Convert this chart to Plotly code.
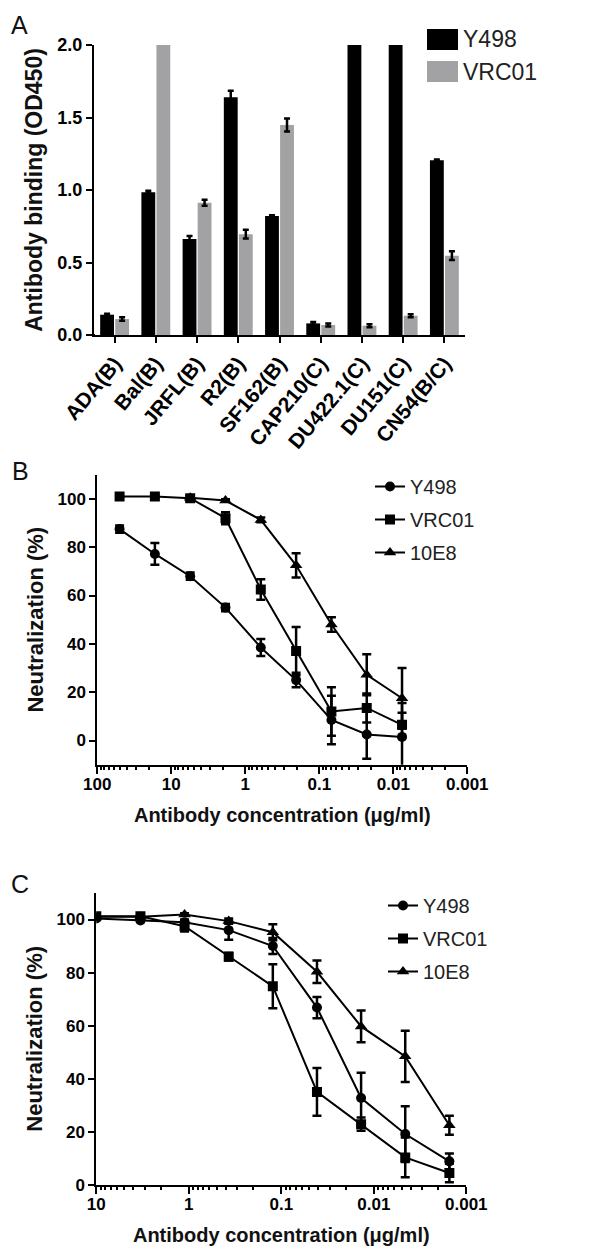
import plotly.graph_objects as go

W, H = 613, 1247
FONT = "Liberation Sans, Arial, sans-serif"

# ---------------- Panel A data ----------------
strains = ["ADA(B)", "Bal(B)", "JRFL(B)", "R2(B)", "SF162(B)",
           "CAP210(C)", "DU422.1(C)", "DU151(C)", "CN54(B/C)"]
a_y498 = [0.14, 0.985, 0.662, 1.64, 0.82, 0.08, 2.5, 2.5, 1.205]
a_y498_err = [0.006, 0.01, 0.02, 0.045, 0.005, 0.01, 0, 0, 0.005]
a_vrc01 = [0.11, 2.5, 0.912, 0.695, 1.448, 0.069, 0.064, 0.133, 0.547]
a_vrc01_err = [0.012, 0, 0.02, 0.03, 0.045, 0.01, 0.01, 0.01, 0.03]
a_yticks = [0.0, 0.5, 1.0, 1.5, 2.0]
a_yticktext = ["0.0", "0.5", "1.0", "1.5", "2.0"]

# ---------------- Panel B data ----------------
b_conc = [50, 16.67, 5.556, 1.852, 0.6173, 0.2058, 0.06859, 0.02286, 0.007621]
b_y498 = [87.5, 77.2, 68.0, 55.0, 38.5, 25.0, 8.5, 2.5, 1.5]
b_y498_err = [1.5, 4.5, 1.5, 1.5, 3.5, 3.0, 10.0, 10.0, 14.0]
b_vrc01 = [101.0, 101.0, 100.3, 92.0, 62.5, 37.0, 12.0, 13.5, 6.5]
b_vrc01_err = [0.5, 0.5, 1.0, 2.5, 4.2, 10.0, 10.0, 6.0, 5.0]
b_10e8_conc = [5.556, 1.852, 0.6173, 0.2058, 0.06859, 0.02286, 0.007621]
b_10e8 = [100.5, 99.3, 91.3, 72.5, 48.0, 27.2, 17.5]
b_10e8_err = [0.5, 0.5, 1.0, 5.0, 3.0, 8.5, 12.5]
b_xticks = [100, 10, 1, 0.1, 0.01, 0.001]
b_xticktext = ["100", "10", "1", "0.1", "0.01", "0.001"]

# ---------------- Panel C data ----------------
c_conc = [10, 3.333, 1.111, 0.3704, 0.1235, 0.04115, 0.01372, 0.004572, 0.001524]
c_y498 = [100.4, 99.6, 99.0, 96.0, 90.0, 66.8, 32.7, 19.1, 8.8]
c_y498_err = [0.5, 0.5, 1.0, 3.6, 3.0, 4.0, 9.5, 10.5, 3.0]
c_vrc01 = [101.2, 101.2, 97.5, 86.0, 74.8, 35.0, 22.8, 10.3, 4.4]
c_vrc01_err = [0.5, 0.5, 2.0, 1.5, 8.3, 9.0, 2.5, 7.5, 3.5]
c_10e8 = [101.0, 101.0, 101.9, 99.4, 95.2, 80.3, 59.7, 48.4, 22.4]
c_10e8_err = [0.5, 0.5, 0.5, 1.0, 3.0, 4.2, 6.0, 9.7, 3.6]
c_xticks = [10, 1, 0.1, 0.01, 0.001]
c_xticktext = ["10", "1", "0.1", "0.01", "0.001"]

neut_yticks = [0, 20, 40, 60, 80, 100]

BLACK = "#000000"
GREY = "#a2a2a4"


def px_x(p):
    return p / W


def px_y(p):
    return 1 - p / H


def minor_log_ticks(decades):
    return [m * d for d in decades for m in range(2, 10)]


fig = go.Figure()

# ---- Panel A bars ----
fig.add_trace(go.Bar(
    x=strains, y=a_y498, name="Y498", marker=dict(color=BLACK, line=dict(width=0)),
    error_y=dict(type="data", array=a_y498_err, color=BLACK, thickness=2.5, width=3),
    xaxis="x", yaxis="y", showlegend=False))
fig.add_trace(go.Bar(
    x=strains, y=a_vrc01, name="VRC01", marker=dict(color=GREY, line=dict(width=0)),
    error_y=dict(type="data", array=a_vrc01_err, color=BLACK, thickness=2.5, width=3),
    xaxis="x", yaxis="y", showlegend=False))

# ---- Panel B / C curves ----
line_style = dict(color=BLACK, width=2)
err_style = dict(color=BLACK, thickness=2.5, width=4.5)


def curve(x, y, err, name, symbol, size, xa, ya, legend):
    return go.Scatter(
        x=x, y=y, name=name, mode="lines+markers",
        line=line_style,
        marker=dict(symbol=symbol, size=size, color=BLACK, line=dict(width=0)),
        error_y=dict(type="data", array=err, **err_style),
        xaxis=xa, yaxis=ya, legend=legend, legendgroup=legend + name)


fig.add_trace(curve(b_conc, b_y498, b_y498_err, "Y498", "circle", 10, "x2", "y2", "legend2"))
fig.add_trace(curve(b_conc, b_vrc01, b_vrc01_err, "VRC01", "square", 10, "x2", "y2", "legend2"))
fig.add_trace(curve(b_10e8_conc, b_10e8, b_10e8_err, "10E8", "triangle-up", 11, "x2", "y2", "legend2"))

fig.add_trace(curve(c_conc, c_y498, c_y498_err, "Y498", "circle", 10, "x3", "y3", "legend3"))
fig.add_trace(curve(c_conc, c_vrc01, c_vrc01_err, "VRC01", "square", 10, "x3", "y3", "legend3"))
fig.add_trace(curve(c_conc, c_10e8, c_10e8_err, "10E8", "triangle-up", 11, "x3", "y3", "legend3"))

tickfont_a = dict(family=FONT, size=18, color=BLACK, weight="bold")
tickfont_n = dict(family=FONT, size=17, color=BLACK, weight="bold")
title_font_h = dict(family=FONT, size=20, color="#111111", weight="bold")
title_font_v = dict(family=FONT, size=22, color="#111111", weight="bold")

common_axis = dict(showline=True, linecolor=BLACK, linewidth=2, ticks="outside",
                   tickcolor=BLACK, tickwidth=2, showgrid=False, zeroline=False,
                   automargin=False)


def log_minor(decades):
    return dict(tickmode="array", tickvals=minor_log_ticks(decades), ticks="outside",
                ticklen=3.5, tickwidth=1.5, tickcolor=BLACK, showgrid=False)


fig.update_layout(
    width=W, height=H,
    margin=dict(l=0, r=0, t=0, b=0),
    paper_bgcolor="white", plot_bgcolor="white",
    font=dict(family=FONT, color=BLACK),
    barmode="group", bargap=0.27, bargroupgap=0.08,
    xaxis=dict(domain=[px_x(86), px_x(457)], anchor="y", type="category",
               range=[-0.5, 8.5], tickangle=-50,
               tickfont=dict(family=FONT, size=21, color=BLACK, weight="bold"),
               ticklen=6, **common_axis),
    yaxis=dict(domain=[px_y(327), px_y(37)], anchor="x", range=[0, 2.0],
               tickvals=a_yticks, ticktext=a_yticktext,
               tickfont=tickfont_a, ticklen=6,
               title=dict(text="Antibody binding (OD450)",
                          font=dict(family=FONT, size=23, color="#111111", weight="bold"),
                          standoff=8),
               **common_axis),
    xaxis2=dict(domain=[px_x(89.3), px_x(459.3)], anchor="y2", type="log",
                range=[2, -3], tickvals=b_xticks, ticktext=b_xticktext,
                tickfont=tickfont_n, ticklen=7, ticklabelstandoff=-4,
                minor=log_minor([0.001, 0.01, 0.1, 1, 10]),
                title=dict(text="Antibody concentration (μg/ml)", font=title_font_h, standoff=15),
                **common_axis),
    yaxis2=dict(domain=[px_y(756.7), px_y(466.7)], anchor="x2", range=[-10, 110],
                tickvals=neut_yticks, tickfont=tickfont_n, ticklen=6,
                title=dict(text="Neutralization (%)", font=title_font_v, standoff=8),
                **common_axis),
    xaxis3=dict(domain=[px_x(88.3), px_x(458.3)], anchor="y3", type="log",
                range=[1, -3], tickvals=c_xticks, ticktext=c_xticktext,
                tickfont=tickfont_n, ticklen=7, ticklabelstandoff=-4,
                minor=log_minor([0.001, 0.01, 0.1, 1]),
                title=dict(text="Antibody concentration (μg/ml)", font=title_font_h, standoff=15),
                **common_axis),
    yaxis3=dict(domain=[px_y(1176.7), px_y(885)], anchor="x3", range=[0, 110],
                tickvals=neut_yticks, tickfont=tickfont_n, ticklen=6,
                title=dict(text="Neutralization (%)", font=title_font_v, standoff=8),
                **common_axis),
    legend2=dict(x=px_x(362), y=px_y(459), xanchor="left", yanchor="top",
                 font=dict(family=FONT, size=20, color="#222222"),
                 bgcolor="rgba(0,0,0,0)", tracegroupgap=4),
    legend3=dict(x=px_x(375), y=px_y(878), xanchor="left", yanchor="top",
                 font=dict(family=FONT, size=20, color="#222222"),
                 bgcolor="rgba(0,0,0,0)", tracegroupgap=4),
    showlegend=True,
)

# Panel A legend (large swatches) and short x-axis extension left of the y-axis
shapes = [
    dict(type="rect", xref="paper", yref="paper", x0=px_x(419), x1=px_x(450),
         y0=px_y(42), y1=px_y(21), fillcolor=BLACK, line=dict(width=0)),
    dict(type="rect", xref="paper", yref="paper", x0=px_x(419), x1=px_x(450),
         y0=px_y(74), y1=px_y(53), fillcolor=GREY, line=dict(width=0)),
    dict(type="line", xref="paper", yref="paper", x0=px_x(80), x1=px_x(87),
         y0=px_y(327), y1=px_y(327), line=dict(color=BLACK, width=2)),
]
fig.update_layout(shapes=shapes)

annotations = [
    dict(text="Y498", x=px_x(453), y=px_y(31), xref="paper", yref="paper",
         xanchor="left", yanchor="middle", showarrow=False,
         font=dict(family=FONT, size=23, color="#222222")),
    dict(text="VRC01", x=px_x(453), y=px_y(64), xref="paper", yref="paper",
         xanchor="left", yanchor="middle", showarrow=False,
         font=dict(family=FONT, size=23, color="#222222")),
    dict(text="A", x=px_x(1), y=px_y(1), xref="paper", yref="paper",
         xanchor="left", yanchor="top", showarrow=False,
         font=dict(family=FONT, size=25, color="#111111")),
    dict(text="B", x=px_x(2), y=px_y(447), xref="paper", yref="paper",
         xanchor="left", yanchor="top", showarrow=False,
         font=dict(family=FONT, size=25, color="#111111")),
    dict(text="C", x=px_x(1), y=px_y(860), xref="paper", yref="paper",
         xanchor="left", yanchor="top", showarrow=False,
         font=dict(family=FONT, size=25, color="#111111")),
]
fig.update_layout(annotations=annotations)

fig.write_html("out.html")
